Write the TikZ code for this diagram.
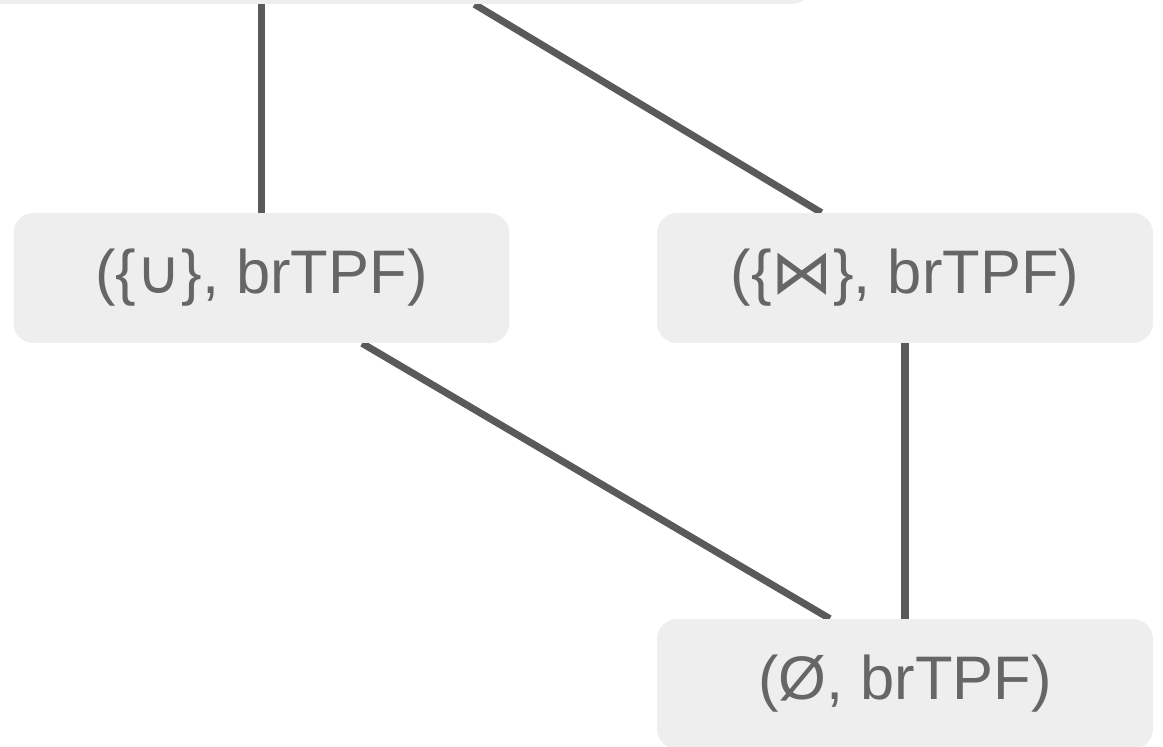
\documentclass[tikz,border=0pt]{standalone}
\usepackage{fontspec}
\setmainfont{Liberation Sans}
\newfontfamily\opfont{DejaVu Sans}
\usetikzlibrary{positioning}
\usetikzlibrary{backgrounds}

\definecolor{boxgray}{HTML}{EEEEEE}
\definecolor{textgray}{HTML}{666666}
\definecolor{edgegray}{HTML}{5A5A5A}

\begin{document}
\begin{tikzpicture}[x=0.02cm, y=-0.02cm,
	lattice/.style={rectangle, rounded corners=0.4cm, fill=boxgray, text=textgray,
		minimum width=9.92cm, minimum height=2.6cm, inner sep=0pt,
		font=\fontsize{35}{42}\selectfont},
	link/.style={draw=edgegray, line width=4pt}]
	\useasboundingbox (0,0) rectangle (1163,747);
	\clip (0,0) rectangle (1163,747);

	\node [lattice, minimum width=17.84cm] at (366,-61) (top) {};
	\node [lattice] at (261.5,278) (union) {(\{{\opfont ∪}\}, brTPF)};
	\node [lattice] at (905,278) (join) {(\{{\opfont ⋈}\}, brTPF)};
	\node [lattice] at (905,684) (empty) {(Ø, brTPF)};

	\begin{scope}[on background layer]
	\draw [link] (union.north |- top.south) -- (union.north); \draw [link] (top) -- (join.142.6);
	\draw [link] (union.-33) -- (empty.139); \draw [link] (join) -- (empty);
	\end{scope}
\end{tikzpicture}
\end{document}
